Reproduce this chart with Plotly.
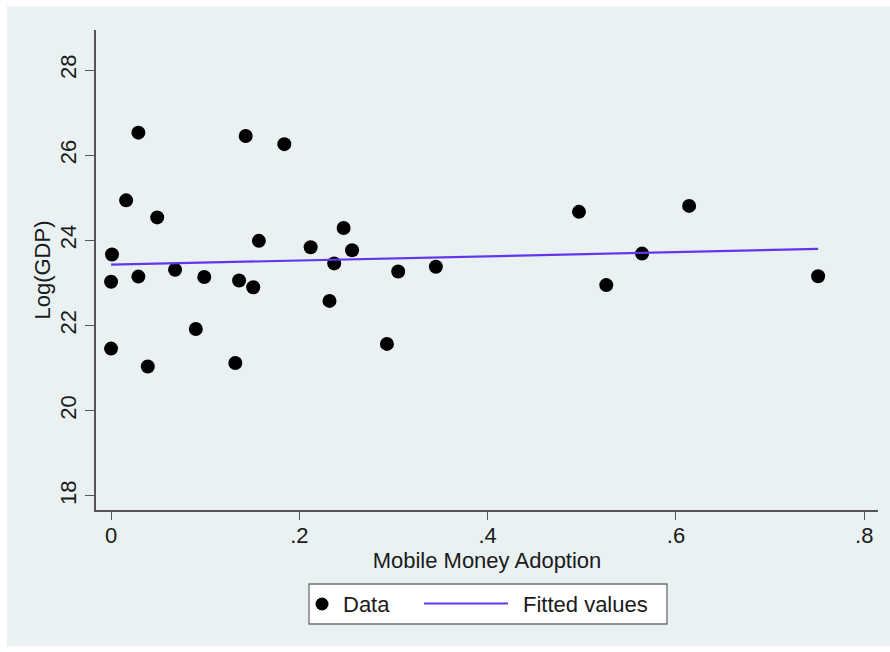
import plotly.graph_objects as go

# Mobile money adoption (share of adults) and log GDP by country
adoption = [0.029, 0.143, 0.184, 0.016, 0.049, 0.001, 0.157, 0.212, 0.247, 0.256,
            0.237, 0.000, 0.029, 0.068, 0.099, 0.136, 0.151, 0.232, 0.090, 0.000,
            0.039, 0.132, 0.293, 0.497, 0.305, 0.345, 0.526, 0.564, 0.614, 0.751]
log_gdp = [26.53, 26.45, 26.26, 24.94, 24.54, 23.67, 23.99, 23.84, 24.29, 23.77,
           23.46, 23.03, 23.15, 23.31, 23.14, 23.06, 22.90, 22.58, 21.92, 21.46,
           21.04, 21.12, 21.57, 24.67, 23.27, 23.38, 22.95, 23.69, 24.81, 23.16]

# Linear fit (endpoints of the fitted line)
fit_x = [0.000, 0.751]
fit_y = [23.43, 23.80]

x_ticks = [0, 0.2, 0.4, 0.6, 0.8]
x_tick_text = ["0", ".2", ".4", ".6", ".8"]
y_ticks = [18, 20, 22, 24, 26, 28]

BG = "#E9F1F3"
AXIS = "#555555"
TEXT = "#1a1a1a"
FIT = "#6236EE"
FONT = "Liberation Sans, Arial, Helvetica, sans-serif"

W, H = 890, 652
L, R, T, B = 96, 12, 30, 142
pw, ph = W - L - R, H - T - B


def px_x(v):
    """Pixel column -> paper x."""
    return (v - L) / pw


def px_y(v):
    """Pixel row -> paper y."""
    return (H - B - v) / ph


fig = go.Figure()
fig.add_trace(go.Scatter(
    x=adoption, y=log_gdp, mode="markers", name="Data",
    marker=dict(color="black", size=14, line=dict(width=0)),
))
fig.add_trace(go.Scatter(
    x=fit_x, y=fit_y, mode="lines", name="Fitted values",
    line=dict(color=FIT, width=2.2),
))

# outer graph region background
fig.add_shape(
    type="rect", xref="paper", yref="paper", layer="below",
    x0=px_x(7), x1=px_x(W), y0=px_y(646), y1=px_y(6),
    fillcolor=BG, line=dict(width=0),
)

# legend box below the x-axis title
fig.add_shape(
    type="rect", xref="paper", yref="paper",
    x0=px_x(309), x1=px_x(667), y0=px_y(624), y1=px_y(584),
    fillcolor="white", line=dict(color="#6f6f6f", width=1.3),
)
fig.add_shape(
    type="circle", xref="paper", yref="paper",
    x0=px_x(315.5), x1=px_x(328.5), y0=px_y(610.5), y1=px_y(597.5),
    fillcolor="black", line=dict(width=0),
)
fig.add_shape(
    type="line", xref="paper", yref="paper",
    x0=px_x(424), x1=px_x(508), y0=px_y(603.5), y1=px_y(603.5),
    line=dict(color=FIT, width=2),
)
for label, left in [("Data", 341), ("Fitted values", 521)]:
    fig.add_annotation(
        text=label, xref="paper", yref="paper",
        x=px_x(left), y=px_y(604), xanchor="left", yanchor="middle",
        showarrow=False, font=dict(size=22, color=TEXT),
    )

fig.update_layout(
    width=W, height=H,
    margin=dict(l=L, r=R, t=T, b=B),
    paper_bgcolor="white",
    plot_bgcolor="white",
    font=dict(family=FONT, size=22, color=TEXT),
    showlegend=False,
    xaxis=dict(
        range=[-0.016, 0.8146],
        tickmode="array", tickvals=x_ticks, ticktext=x_tick_text,
        showgrid=False, zeroline=False,
        showline=True, linecolor=AXIS, linewidth=1.5,
        ticks="outside", ticklen=8, tickcolor=AXIS, tickwidth=1.3,
        ticklabelstandoff=-3,
        title=dict(text="Mobile Money Adoption", font=dict(size=22), standoff=0),
    ),
    yaxis=dict(
        range=[17.67, 28.94],
        tickmode="array", tickvals=y_ticks,
        tickangle=-90,
        showgrid=True, gridcolor=BG, gridwidth=2,
        zeroline=False,
        showline=True, linecolor=AXIS, linewidth=1.5,
        ticks="outside", ticklen=9, tickcolor=AXIS, tickwidth=1.3,
        ticklabelstandoff=0,
        title=dict(text="Log(GDP)", font=dict(size=22), standoff=0),
    ),
)

fig.write_html("out.html")
